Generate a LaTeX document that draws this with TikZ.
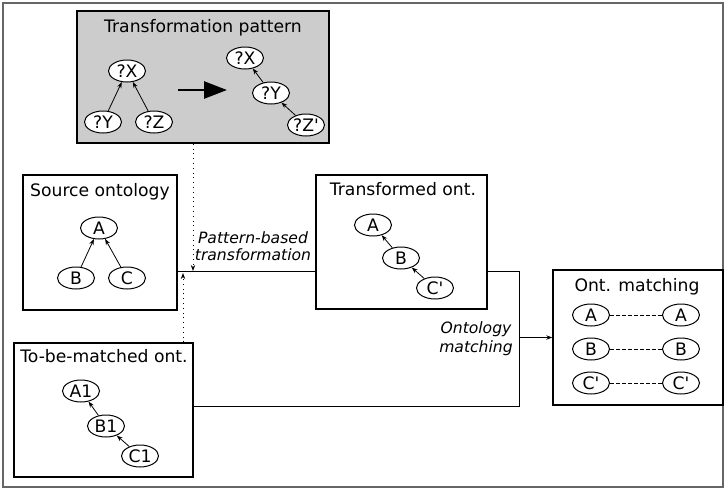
\documentclass[tikz,border=0pt]{standalone}
\usepackage{fontspec}
\setmainfont{DejaVu Sans}
\usepackage{tikz}
\usetikzlibrary{arrows.meta,positioning,shapes.geometric}

\begin{document}
\begin{tikzpicture}[x=0.5pt,y=-0.5pt,node distance = 45pt,inner sep=0pt,
  font=\fontsize{8.6}{10}\selectfont,
  onto/.style={ellipse,draw,line width=0.5pt,fill=white,minimum width=18.5pt,minimum height=11pt},
  panel/.style={rectangle,draw,line width=0.75pt},
  note/.style={font=\fontsize{7.8}{#1}\selectfont\itshape,align=center},
  isa/.style={-{Stealth[length=3pt,width=2.2pt]},line width=0.4pt},
  same/.style={dash pattern=on 2pt off 1pt,line width=0.4pt},
  flow/.style={line width=0.5pt}]

\useasboundingbox (0,0) rectangle (724,489);
\draw[black!60,line width=0.8pt] (3,3) rectangle (723,487);

% pattern
\node[panel,fill=black!20,minimum width=126pt,minimum height=66pt] (pat) at (203,77) {};
\node[anchor=base] (patT) at (203,32) {Transformation pattern};
\node[onto] (pX) at (127,71) {?X};
\node[onto] (pY) at (103,122) {?Y};
\node[onto] (pZ) at (154,122) {?Z};
\node[onto] (qX) at (245,58) {?X};
\node[onto] (qY) at (271,93) {?Y};
\node[onto] (qZ) at (306,125) {?Z\textquotesingle};
\coordinate (arrL) at (178,90);
\coordinate (arrR) at (227,90);
\path (pY) edge [isa] (pX);
\path (pZ) edge [isa] (pX);
\path (qY) edge [isa] (qX);
\path (qZ) edge [isa] (qY);
\draw[-{Triangle[length=11.5pt,width=8.5pt]},line width=1.3pt] (arrL) -- (arrR);

% source
\node[panel,minimum width=77pt,minimum height=67.5pt] (src) at (100,242.5) {};
\node[anchor=base] (srcT) at (100,196) {Source ontology};
\node[onto] (sA) at (99,228) {A};
\node[onto] (sB) at (76,278) {B};
\node[onto] (sC) at (127,278) {C};
\path (sB) edge [isa] (sA);
\path (sC) edge [isa] (sA);

% transformed
\node[panel,minimum width=85.5pt,minimum height=67pt] (trans) at (401.5,242) {};
\node[anchor=base] (transT) at (403,195) {Transformed ont.};
\node[onto] (tA) at (373,225) {A};
\node[onto] (tB) at (401,258) {B};
\node[onto] (tC) at (435,288) {C\textquotesingle};
\path (tB) edge [isa] (tA);
\path (tC) edge [isa] (tB);

% to be matched
\node[panel,minimum width=89.5pt,minimum height=67pt] (tbm) at (103.5,410) {};
\node[anchor=base] (tbmT) at (104,362) {To-be-matched ont.};
\node[onto] (bA) at (81,391) {A1};
\node[onto] (bB) at (106,426) {B1};
\node[onto] (bC) at (140,456) {C1};
\path (bB) edge [isa] (bA);
\path (bC) edge [isa] (bB);

% matching
\node[panel,minimum width=85pt,minimum height=67.5pt] (match) at (638,337.5) {};
\node[anchor=base] (matchT) at (637,291) {Ont. matching};
\node[onto] (mA) at (591,315) {A};
\node[onto] (mB) [below of = mA, node distance = 17pt] {B};
\node[onto] (mC) [below of = mB, node distance = 17pt] {C\textquotesingle};
\node[onto] (nA) [right of = mA] {A};
\node[onto] (nB) [right of = mB] {B};
\node[onto] (nC) [right of = mC] {C\textquotesingle};
\path (mA) edge [same] (nA);
\path (mB) edge [same] (nB);
\path (mC) edge [same] (nC);

% connectors
\coordinate (pjoin) at (193,271);
\coordinate (ujoin) at (183,273);
\coordinate (mturn) at (519,406);
\draw[flow] (src.east |- pjoin) -- (trans.west |- pjoin);
\draw[isa,dotted] (pat.south -| pjoin) -- (pjoin);
\draw[isa,dotted] (tbm.north -| ujoin) -- (ujoin);
\draw[flow] (trans.east |- pjoin) -| (mturn) -- (tbm.east |- mturn);
\draw[flow,isa] (mturn |- match.west) -- (match.west);
\node[note=8.6pt] (lblPat) at (253,246) {Pattern-based\\transformation};
\node[note=9.5pt] (lblMat) at (476,339) {Ontology\\matching};

\end{tikzpicture}
\end{document}
